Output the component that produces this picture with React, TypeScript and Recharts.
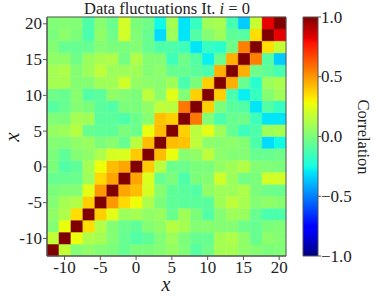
import React from 'react';
import { ComposedChart, XAxis, YAxis, ReferenceArea, Scatter } from 'recharts';

// Grid coordinates of the 20 correlation cells (same on both axes)
const gridCenters = [
  -11.615, -9.945, -8.275, -6.605, -4.935, -3.265, -1.595, 0.075, 1.745, 3.415,
  5.085, 6.755, 8.425, 10.095, 11.765, 13.435, 15.105, 16.775, 18.445, 20.115,
];
const cellWidth = 1.67;
const axisDomain: [number, number] = [-12.45, 20.95];
const xTicks = [-10, -5, 0, 5, 10, 15, 20];
const yTicks = [-10, -5, 0, 5, 10, 15, 20];
const colorbarTicks = [-1, -0.5, 0, 0.5, 1];

// Lower triangle (incl. diagonal) of the correlation matrix, row r = y index
const corrLower: number[][] = [
  [1],
  [0.17, 1],
  [0.02, 0.27, 1],
  [0.05, 0.12, 0.35, 1],
  [0.02, 0.1, 0.13, 0.38, 1],
  [0.0, 0.02, 0.02, 0.25, 0.5, 1],
  [-0.05, -0.05, -0.04, 0.08, 0.36, 0.47, 1],
  [0.0, -0.1, -0.07, 0.1, 0.28, 0.42, 0.47, 1],
  [0.0, -0.07, 0.02, 0.05, 0.12, 0.22, 0.23, 0.39, 1],
  [0.02, 0.01, 0.05, 0.07, 0.0, 0.03, -0.05, 0.15, 0.42, 1],
  [0.06, 0.08, 0.14, -0.05, -0.07, -0.07, 0.0, -0.04, 0.27, 0.42, 1],
  [0.01, 0.0, 0.1, 0.09, -0.08, -0.08, -0.11, -0.04, 0.03, 0.41, 0.38, 1],
  [-0.09, -0.05, 0.02, 0.0, -0.08, -0.1, 0.0, 0.0, 0.05, 0.16, 0.15, 0.57, 1],
  [-0.03, -0.05, 0.03, -0.1, -0.08, 0.05, 0.02, 0.0, 0.16, 0.04, 0.25, 0.01, 0.38, 1],
  [0.1, 0.1, 0.02, 0.02, 0.09, 0.09, 0.2, 0.06, 0.04, 0.03, 0.09, -0.12, 0.0, 0.38, 1],
  [0.1, 0.12, 0.02, 0.08, 0.16, 0.08, 0.08, 0.09, 0.02, 0.04, -0.05, -0.05, -0.08, -0.12, 0.45, 1],
  [0.05, 0.05, -0.03, 0.07, 0.11, 0.12, -0.02, 0.13, 0.02, 0.02, -0.15, -0.03, -0.1, -0.28, -0.05, 0.45, 1],
  [0.02, -0.05, -0.05, -0.05, 0.02, 0.0, 0.0, 0.02, -0.05, -0.11, -0.11, -0.15, -0.3, -0.17, -0.2, -0.03, 0.55, 1],
  [0.0, 0.04, 0.0, -0.12, 0.05, -0.03, 0.21, 0.01, -0.05, -0.32, 0.08, -0.3, -0.1, 0.02, 0.08, -0.07, -0.09, 0.35, 1],
  [0.01, 0.02, 0.01, -0.11, 0.03, -0.04, 0.21, 0.0, -0.03, -0.26, 0.1, -0.3, -0.17, 0.09, 0.11, -0.13, -0.35, 0.18, 0.82, 1],
];

// matplotlib "jet" segment data
const jetRed: [number, number][] = [[0, 0], [0.35, 0], [0.66, 1], [0.89, 1], [1, 0.5]];
const jetGreen: [number, number][] = [[0, 0], [0.125, 0], [0.375, 1], [0.64, 1], [0.91, 0], [1, 0]];
const jetBlue: [number, number][] = [[0, 0.5], [0.11, 1], [0.34, 1], [0.65, 0], [1, 0]];
const jetStops = [0, 0.11, 0.125, 0.34, 0.35, 0.375, 0.64, 0.65, 0.66, 0.89, 0.91, 1];

function seg(pts: [number, number][], t: number): number {
  if (t <= pts[0][0]) return pts[0][1];
  for (let i = 1; i < pts.length; i++) {
    if (t <= pts[i][0]) {
      const [t0, v0] = pts[i - 1];
      const [t1, v1] = pts[i];
      return v0 + ((t - t0) / (t1 - t0)) * (v1 - v0);
    }
  }
  return pts[pts.length - 1][1];
}
function jetT(t: number): string {
  const tt = Math.max(0, Math.min(1, t));
  const r = Math.round(seg(jetRed, tt) * 255);
  const g = Math.round(seg(jetGreen, tt) * 255);
  const b = Math.round(seg(jetBlue, tt) * 255);
  return `rgb(${r},${g},${b})`;
}
const jet = (v: number) => jetT((v + 1) / 2);

type Cell = { x: number; y: number; v: number };
const cells: Cell[] = [];
for (let r = 0; r < gridCenters.length; r++) {
  for (let c = 0; c < gridCenters.length; c++) {
    const v = r >= c ? corrLower[r][c] : corrLower[c][r];
    cells.push({ x: gridCenters[c], y: gridCenters[r], v });
  }
}

const FONT = '"Liberation Serif", "DejaVu Serif", serif';
const TEXT = '#222';
const SPINE = '#555';

const fmtCb = (v: number) => (v < 0 ? '\u2212' : '') + Math.abs(v).toFixed(1);

const XTick = (props: any) => {
  const { x, y, payload } = props;
  return (
    <text x={x} y={y + 12} textAnchor="middle" fontFamily={FONT} fontSize={17} fill={TEXT}>
      {String(payload.value)}
    </text>
  );
};
const YTick = (props: any) => {
  const { x, y, payload } = props;
  return (
    <text x={x} y={y + 5.5} textAnchor="end" fontFamily={FONT} fontSize={17} fill={TEXT}>
      {String(payload.value)}
    </text>
  );
};
const CbTick = (props: any) => {
  const { x, y, payload } = props;
  return (
    <text x={x} y={y + 5.5} textAnchor="start" fontFamily={FONT} fontSize={17} fill={TEXT}>
      {fmtCb(payload.value)}
    </text>
  );
};

export default function App() {
  const W = 374;
  const H = 297;
  return (
    <div style={{ position: 'absolute', left: 0, top: 0, width: W, height: H, background: '#fff', fontFamily: FONT }}>
      <svg width={W} height={H} style={{ position: 'absolute', left: 0, top: 0 }}>
        <defs>
          <linearGradient id="jetGrad" x1="0" y1="1" x2="0" y2="0">
            {jetStops.map((t) => (
              <stop key={t} offset={t} stopColor={jetT(t)} />
            ))}
          </linearGradient>
        </defs>
        <text x={167} y={14} textAnchor="middle" fontFamily={FONT} fontSize={16.5} fill={TEXT}>
          Data fluctuations It.{' '}
          <tspan fontStyle="italic">i</tspan> = 0
        </text>
        <text x={166} y={291} textAnchor="middle" fontFamily={FONT} fontSize={20} fontStyle="italic" fill={TEXT}>
          x
        </text>
        <text
          x={12}
          y={137}
          textAnchor="middle"
          dominantBaseline="central"
          transform="rotate(-90 12 137)"
          fontFamily={FONT}
          fontSize={21}
          fontStyle="italic"
          fill={TEXT}
        >
          x
        </text>
        <text
          x={363}
          y={137}
          textAnchor="middle"
          dominantBaseline="central"
          transform="rotate(90 363 137)"
          fontFamily={FONT}
          fontSize={16.5}
          fill={TEXT}
        >
          Correlation
        </text>
      </svg>

      <div style={{ position: 'absolute', left: 0, top: 0 }}>
        <ComposedChart width={W} height={H} data={cells} margin={{ top: 17, right: 88, bottom: 0, left: 0 }}>
          <XAxis
            type="number"
            dataKey="x"
            domain={axisDomain}
            allowDataOverflow
            ticks={xTicks}
            height={41}
            tickSize={4}
            tickMargin={1}
            axisLine={{ stroke: SPINE }}
            tickLine={{ stroke: SPINE }}
            tick={<XTick />}
          />
          <YAxis
            type="number"
            dataKey="y"
            domain={axisDomain}
            allowDataOverflow
            ticks={yTicks}
            width={47}
            tickSize={4}
            tickMargin={1}
            axisLine={{ stroke: SPINE }}
            tickLine={{ stroke: SPINE }}
            tick={<YTick />}
          />
          {cells.map((d, i) => (
            <ReferenceArea
              key={i}
              x1={d.x - cellWidth / 2}
              x2={d.x + cellWidth / 2}
              y1={d.y - cellWidth / 2}
              y2={d.y + cellWidth / 2}
              fill={jet(d.v)}
              fillOpacity={1}
              stroke={jet(d.v)}
              strokeWidth={0.4}
              ifOverflow="visible"
            />
          ))}
          <ReferenceArea
            x1={axisDomain[0]}
            x2={axisDomain[1]}
            y1={axisDomain[0]}
            y2={axisDomain[1]}
            fill="none"
            fillOpacity={0}
            stroke={SPINE}
            strokeWidth={1}
            ifOverflow="visible"
          />
          <Scatter dataKey="y" isAnimationActive={false} shape={() => <g />} />
        </ComposedChart>
      </div>

      <div style={{ position: 'absolute', left: 0, top: 0 }}>
        <ComposedChart
          width={W}
          height={H}
          data={[{ x: 0.5, y: 0 }]}
          margin={{ top: 17, right: 16, bottom: 41, left: 303 }}
        >
          <XAxis type="number" dataKey="x" domain={[0, 1]} hide />
          <YAxis
            type="number"
            dataKey="y"
            orientation="right"
            domain={[-1, 1]}
            ticks={colorbarTicks}
            width={40}
            tickSize={3}
            tickMargin={0}
            axisLine={false}
            tickLine={{ stroke: SPINE }}
            tick={<CbTick />}
          />
          <ReferenceArea
            x1={0}
            x2={1}
            y1={-1}
            y2={1}
            fill="url(#jetGrad)"
            fillOpacity={1}
            stroke={SPINE}
            strokeWidth={1}
            ifOverflow="visible"
          />
          <Scatter dataKey="y" isAnimationActive={false} shape={() => <g />} />
        </ComposedChart>
      </div>
    </div>
  );
}
